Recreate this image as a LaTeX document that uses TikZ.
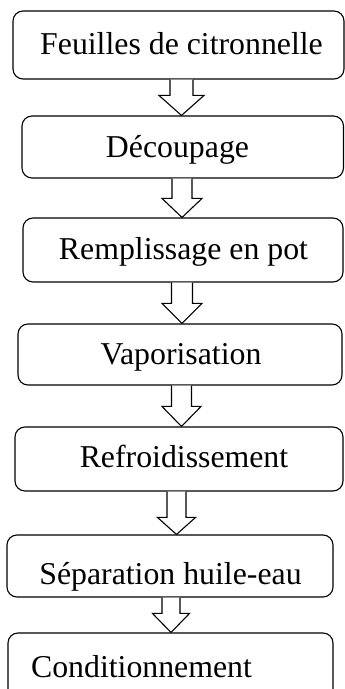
\documentclass[tikz,border=0pt]{standalone}
\usepackage{fontspec}
\setmainfont{Liberation Serif}
\usetikzlibrary{calc}

\tikzset{
  stage/.style={draw=black, line width=1.1pt, rounded corners=10pt, inner sep=0pt, fill=white},
  caption/.style={anchor=base, inner sep=0pt, font=\fontsize{31.8}{38}\selectfont},
  blockarrow/.style={draw=black, line width=1.1pt, fill=white, line join=miter}
}

% hollow block arrow from the bottom of #1 to the top of #2
% #3 = x of the axis, #4 = half shaft width, #5 = half head width, #6 = head length
\newcommand\flowarrow[6]{%
  \draw[blockarrow] let \p1=(#1.south), \p2=(#2.north) in
    (#3-#4,\y1) -- (#3-#4,\y2+#6pt) -- (#3-#5,\y2+#6pt) -- (#3,\y2)
    -- (#3+#5,\y2+#6pt) -- (#3+#4,\y2+#6pt) -- (#3+#4,\y1);
}

\begin{document}
\begin{tikzpicture}[x=1pt,y=1pt]
\useasboundingbox (0,0) rectangle (345,689);
\clip (0,0) rectangle (345,689);

% process stages
\node[stage, minimum width=331pt, minimum height=68pt] (b1) at (178.5,644) {};
\node[stage, minimum width=321.5pt, minimum height=62pt] (b2) at (182.75,542) {};
\node[stage, minimum width=320pt, minimum height=64pt] (b3) at (183,439) {};
\node[stage, minimum width=324pt, minimum height=61pt] (b4) at (180,334.5) {};
\node[stage, minimum width=328pt, minimum height=64pt] (b5) at (179,230) {};
\node[stage, minimum width=326pt, minimum height=62pt] (b6) at (170,123) {};
\node[stage, minimum width=325pt, minimum height=76pt] (b7) at (170.5,18) {};

% stage captions
\node[caption] (t1) at (181.5,634) {Feuilles de citronnelle};
\node[caption] (t2) at (177.5,531) {Découpage};
\node[caption] (t3) at (183.5,429) {Remplissage en pot};
\node[caption] (t4) at (181,324) {Vaporisation};
\node[caption] (t5) at (184,221) {Refroidissement};
\node[caption] (t6) at (170.5,104) {Séparation huile-eau};
\node[caption] (t7) at (141.5,12) {Conditionnement};

% arrows between stages
\flowarrow{b1}{b2}{181.5}{11.5}{22.5}{20}
\flowarrow{b2}{b3}{182}{10}{20}{19}
\flowarrow{b3}{b4}{182}{10.5}{20}{20}
\flowarrow{b4}{b5}{181.5}{10}{19.5}{20}
\flowarrow{b5}{b6}{176.5}{9.5}{19}{17}
\flowarrow{b6}{b7}{171}{9}{18.5}{19}
\end{tikzpicture}
\end{document}
